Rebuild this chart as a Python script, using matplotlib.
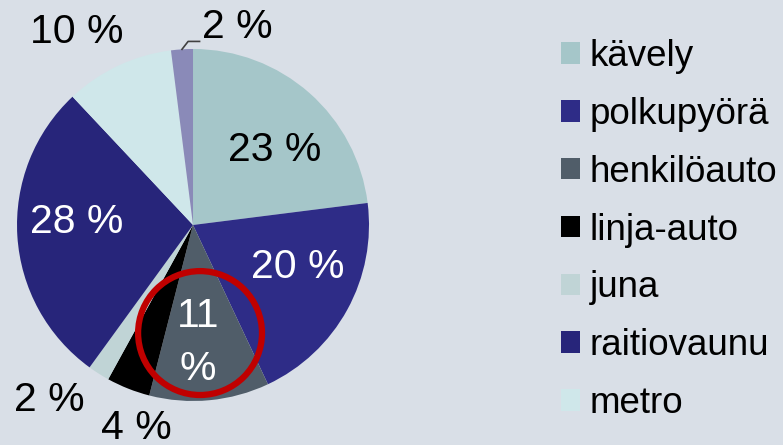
import numpy as np
import matplotlib
matplotlib.use('Agg')
import matplotlib.pyplot as plt
from matplotlib.patches import Circle

# data
names = ['kävely', 'polkupyörä', 'henkilöauto', 'linja-auto', 'juna',
         'raitiovaunu', 'metro', 'muu']
values = [23, 20, 11, 4, 2, 28, 10, 2]
pct_text = ['23 %', '20 %', '11\n%', '4 %', '2 %', '28 %', '10 %', '2 %']
in_legend = 7

colors = ['#a5c6c9', '#2e2c87', '#505d69', '#000000', '#c0d4d6',
          '#27257a', '#cfe7ea', '#8a8ab8']
BG = '#d9dfe7'

# label placement: radius, angle offset (deg), colour
lab_r = [0.63, 0.64, 0.67, 1.2, 1.29, 0.66, 1.28, None]
lab_da = [-6, 7, -3, 6, -7, -5, 6, 0]
lab_c = ['black', 'white', 'white', 'black', 'black', 'white', 'black', 'black']

plt.rcParams['font.family'] = ['Liberation Sans', 'DejaVu Sans']

fig = plt.figure(figsize=(7.83, 4.45), dpi=100, facecolor=BG)
ax = fig.add_axes([0.0217, 0.0989, 0.4496, 0.791])
ax.set_facecolor(BG)

wedges, _ = ax.pie(values, colors=colors, startangle=90, counterclock=False,
                   radius=1.0, wedgeprops=dict(linewidth=0))
ax.set_xlim(-1, 1)
ax.set_ylim(-1, 1)
ax.set_aspect('equal')
ax.axis('off')

for i, w in enumerate(wedges):
    mid = (w.theta1 + w.theta2) / 2
    if lab_r[i] is None:
        # small slice at top with leader line
        a = np.radians(mid)
        x0, y0 = np.cos(a), np.sin(a)
        xs = [x0, x0 + 0.035, x0 + 0.10]
        ys = [y0, y0 + 0.045, y0 + 0.045]
        ax.plot(xs, ys, color='#404040', lw=1.2, clip_on=False)
        ax.text(xs[-1] + 0.015, ys[-1] + 0.08, pct_text[i], fontsize=29.5,
                ha='left', va='center', color=lab_c[i], clip_on=False)
        continue
    a = np.radians(mid + lab_da[i])
    ax.text(lab_r[i] * np.cos(a), lab_r[i] * np.sin(a), pct_text[i],
            fontsize=29.5, ha='center', va='center', color=lab_c[i],
            linespacing=1.5, clip_on=False)

# red highlight circle
ax.add_patch(Circle((0.04, -0.614), 0.352, fill=False, edgecolor='#c00000',
                    lw=4.5, clip_on=False))

fig.legend(wedges[:in_legend], names[:in_legend], loc='upper left',
           bbox_to_anchor=(0.716, 0.912), frameon=False, fontsize=26.5,
           handlelength=0.52, handleheight=0.52, handletextpad=0.27,
           labelspacing=0.62, borderpad=0, borderaxespad=0)

fig.savefig('out.png', dpi=100, facecolor=BG)
plt.close()
